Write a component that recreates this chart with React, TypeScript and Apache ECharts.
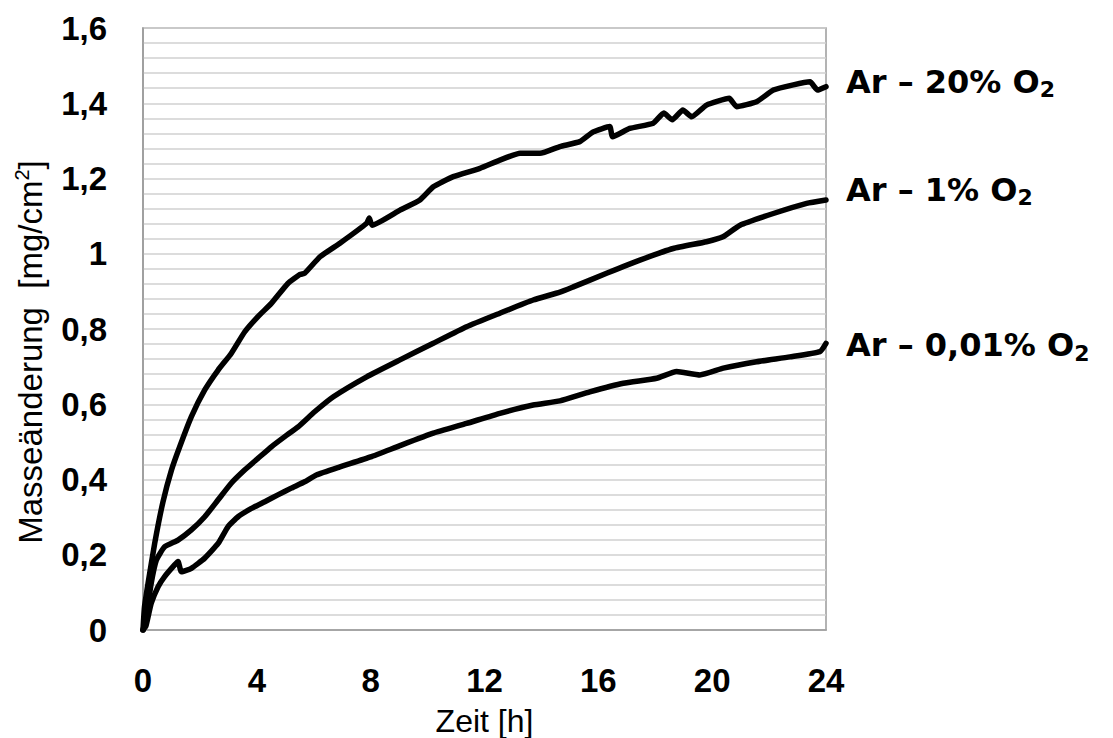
import React, { useEffect, useRef } from "react";
import * as echarts from "echarts";

const xTicks = [0, 4, 8, 12, 16, 20, 24];

const seriesNames = ["Ar – 20% O", "Ar – 1% O", "Ar – 0,01% O"];

const hours20 = [0, 0.05, 0.18, 0.41, 0.7, 1.0, 1.29, 1.7, 2.17, 2.64, 3.1, 3.57, 4.04, 4.51, 5.09, 5.52, 5.68, 6.22, 6.92, 7.86, 7.95, 8.05, 9.03, 9.73, 10.2, 10.9, 11.84, 12.54, 13.25, 13.95, 14.65, 15.35, 15.82, 16.4, 16.5, 17.1, 17.93, 18.3, 18.6, 18.97, 19.28, 19.8, 20.6, 20.86, 21.56, 22.15, 22.85, 23.44, 23.7, 24.0];
const values20 = [0, 0.06, 0.125, 0.23, 0.34, 0.425, 0.487, 0.567, 0.638, 0.691, 0.735, 0.792, 0.833, 0.868, 0.921, 0.945, 0.948, 0.992, 1.028, 1.081, 1.095, 1.076, 1.116, 1.143, 1.178, 1.205, 1.227, 1.249, 1.267, 1.267, 1.285, 1.298, 1.324, 1.338, 1.311, 1.333, 1.347, 1.374, 1.356, 1.382, 1.364, 1.395, 1.413, 1.391, 1.404, 1.435, 1.449, 1.457, 1.435, 1.444];

const hours1 = [0, 0.1, 0.29, 0.47, 0.76, 1.23, 1.7, 2.17, 2.64, 3.1, 3.57, 4.04, 4.51, 4.98, 5.45, 6.03, 6.69, 7.86, 9.03, 10.2, 11.37, 12.54, 13.71, 14.65, 15.12, 16.29, 17.46, 18.63, 19.8, 20.38, 20.98, 22.15, 23.32, 24];
const values1 = [0, 0.03, 0.125, 0.186, 0.221, 0.239, 0.266, 0.301, 0.346, 0.39, 0.425, 0.456, 0.487, 0.514, 0.54, 0.58, 0.62, 0.673, 0.718, 0.762, 0.806, 0.842, 0.877, 0.898, 0.912, 0.948, 0.983, 1.014, 1.032, 1.045, 1.076, 1.107, 1.134, 1.143];

const hours001 = [0, 0.1, 0.29, 0.53, 0.76, 1.11, 1.23, 1.35, 1.7, 2.17, 2.64, 2.99, 3.34, 3.81, 4.28, 4.74, 5.21, 5.68, 6.09, 6.9, 8.0, 9.03, 10.2, 11.37, 12.54, 13.71, 14.65, 15.7, 16.88, 18.05, 18.75, 19.57, 20.39, 21.56, 22.73, 23.79, 24];
const values001 = [0, 0.01, 0.071, 0.115, 0.142, 0.173, 0.182, 0.155, 0.164, 0.191, 0.23, 0.275, 0.301, 0.323, 0.341, 0.359, 0.377, 0.394, 0.412, 0.433, 0.46, 0.49, 0.523, 0.549, 0.576, 0.598, 0.609, 0.633, 0.656, 0.669, 0.687, 0.678, 0.696, 0.713, 0.726, 0.74, 0.762];

const zip = (xs: number[], ys: number[]) => xs.map((x, i) => [x, ys[i]]);

const sans = "'Liberation Sans', Arial, sans-serif";
const wide = "'DejaVu Sans', 'Liberation Sans', Arial, sans-serif";

export default function App() {
  const ref = useRef<HTMLDivElement>(null);
  useEffect(() => {
    if (!ref.current) return;
    const chart = echarts.init(ref.current, null, { renderer: "svg" });
    const endLabel = (name: string, offsetY: number) => ({
      show: true,
      distance: 20,
      offset: [0, offsetY],
      formatter: () => `{m|${name}}{s|2}`,
      rich: {
        m: { fontFamily: wide, fontWeight: "bold", fontSize: 32, color: "#000", lineHeight: 38 },
        s: { fontFamily: wide, fontWeight: "bold", fontSize: 22, color: "#000", lineHeight: 38, verticalAlign: "bottom", padding: [13, 0, 0, 0] },
      },
    });
    const mkSeries = (name: string, data: number[][], offsetY: number) => ({
      type: "line",
      name,
      data,
      showSymbol: false,
      symbol: "none",
      smooth: 0.15,
      lineStyle: { color: "#000", width: 5.5, join: "round", cap: "round" },
      endLabel: endLabel(name, offsetY),
      z: 3,
    });
    chart.setOption({
      animation: false,
      grid: {
        left: 143,
        right: 287,
        top: 28,
        bottom: 108,
        outerBoundsMode: "none",
        containLabel: false,
        show: true,
        borderColor: "#9a9a9a",
        borderWidth: 1.5,
        backgroundColor: "transparent",
      },
      graphic: [
        {
          type: "text",
          x: 30,
          y: 352,
          rotation: Math.PI / 2,
          style: {
            text: "{n|Masseänderung  [mg/cm}{sup|2}{n|]}",
            align: "center",
            verticalAlign: "middle",
            rich: {
              n: { fontFamily: sans, fontSize: 33, fill: "#000", color: "#000", lineHeight: 36 },
              sup: { fontFamily: sans, fontSize: 20, fill: "#000", color: "#000", lineHeight: 36, verticalAlign: "top", padding: [0, 0, 15, 0] },
            },
          },
        },
      ],
      xAxis: {
        type: "value",
        min: xTicks[0],
        max: xTicks[xTicks.length - 1],
        interval: 4,
        name: "Zeit [h]",
        nameLocation: "middle",
        nameGap: 75,
        nameTextStyle: { fontFamily: sans, fontSize: 32, color: "#000", verticalAlign: "top" },
        axisLine: { show: true, lineStyle: { color: "#9a9a9a", width: 1.5 } },
        axisTick: { show: false },
        splitLine: { show: false },
        axisLabel: { fontFamily: sans, fontWeight: "bold", fontSize: 33, color: "#000", margin: 34 },
      },
      yAxis: {
        type: "value",
        min: 0,
        max: 1.6,
        interval: 0.2,
        axisLine: { show: true, lineStyle: { color: "#9a9a9a", width: 1.5 } },
        axisTick: { show: false },
        splitLine: { show: true, lineStyle: { color: "#d0d0d0", width: 1.5 } },
        minorTick: { show: false, splitNumber: 5 },
        minorSplitLine: { show: true, lineStyle: { color: "#d0d0d0", width: 1.5 } },
        axisLabel: {
          fontFamily: sans,
          fontWeight: "bold",
          fontSize: 33,
          color: "#000",
          margin: 36,
          formatter: (v: number) => String(Math.round(v * 10) / 10).replace(".", ","),
        },
      },
      series: [
        mkSeries(seriesNames[0], zip(hours20, values20), -5),
        mkSeries(seriesNames[1], zip(hours1, values1), -10),
        mkSeries(seriesNames[2], zip(hours001, values001), 2),
      ],
    });
    return () => chart.dispose();
  }, []);
  return <div ref={ref} style={{ position: "fixed", left: 0, top: 0, width: 1113, height: 738, background: "#fff" }} />;
}
